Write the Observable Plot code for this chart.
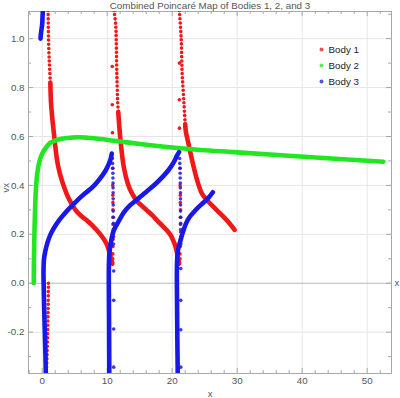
<!DOCTYPE html>
<html><head><meta charset="utf-8">
<script src="https://cdn.jsdelivr.net/npm/d3@7"></script>
<script src="https://cdn.jsdelivr.net/npm/@observablehq/plot@0.6"></script>
<style>
body{margin:0;background:#fff;}
#chart svg{display:block;}
</style></head><body><div id="chart"></div>
<script>
const title = "Combined Poincaré Map of Bodies 1, 2, and 3";
const seriesNames = ["Body 1", "Body 2", "Body 3"];
const seriesColors = ["#f01818", "#22e622", "#1818e8"];
const xTicks = [0, 10, 20, 30, 40, 50];
const yTicks = [-0.2, 0, 0.2, 0.4, 0.6, 0.8, 1.0];
const xMinorTicks = [-2, 2, 4, 6, 8, 12, 14, 16, 18, 22, 24, 26, 28, 32, 34, 36, 38, 42, 44, 46, 48, 52];
const yMinorTicks = [-0.3, -0.1, 0.1, 0.3, 0.5, 0.7, 0.9, 1.1];

// Body 1 (red)
const body1BelowZero = [[0.95,0],[0.92,-0.08],[0.87,-0.16],[0.8,-0.24],[0.72,-0.31],[0.64,-0.37]];
const body1Top1 = [[0.9,1.115],[0.97,1.0],[1.1,0.9],[1.25,0.82]];
const body1Curve1 = [[1.25,0.82],[1.35,0.74],[1.5,0.69],[1.85,0.6],[2.3,0.5],[2.7,0.45],[3.2,0.406],[4.1,0.345],[5.1,0.3],[6.0,0.275],[6.9,0.256],[7.7,0.237],[8.46,0.215],[9.1,0.195],[9.6,0.175],[10.0,0.155],[10.25,0.134],[10.5,0.11],[10.7,0.09],[10.8,0.08]];
const body1Top2 = [[11.05,1.115],[11.3,1.06],[11.38,1.0],[11.48,0.86],[11.6,0.75],[11.7,0.7]];
const body1Curve2 = [[11.7,0.7],[12.05,0.583],[12.56,0.474],[13.2,0.405],[13.85,0.365],[14.6,0.335],[15.4,0.315],[16.15,0.297],[17.0,0.276],[17.7,0.256],[18.5,0.235],[19.23,0.215],[19.8,0.195],[20.15,0.175],[20.45,0.155],[20.66,0.134],[20.85,0.11],[21.0,0.09],[21.07,0.08]];
const body1Top3 = [[21.1,1.115],[21.38,1.0],[21.53,0.86],[21.8,0.74],[22.0,0.65]];
const body1Curve3 = [[22.0,0.65],[22.1,0.62],[22.4,0.583],[23.07,0.502],[23.85,0.42],[24.6,0.365],[25.5,0.335],[26.4,0.311],[27.2,0.29],[27.95,0.27],[28.8,0.245],[29.6,0.218]];
const body1Scatter = [[10.78,0.886],[10.78,0.73],[10.8,0.615],[10.85,0.47],[10.85,0.40],[10.87,0.36],[10.87,0.33],[10.88,0.30],[10.88,0.27],[10.9,0.24],[10.9,0.21],[10.9,0.18],[10.88,0.15],[10.85,0.12],[10.85,0.10],
  [21.1,0.9],[21.1,0.75],[21.12,0.634],[21.2,0.47],[21.22,0.40],[21.25,0.36],[21.25,0.33],[21.27,0.30],[21.27,0.27],[21.28,0.24],[21.28,0.21],[21.28,0.18],[21.25,0.15],[21.2,0.12],[21.2,0.10]];

// Body 2 (green)
const body2Curve = [[-1.3,0],[-1.27,0.1],[-1.2,0.2],[-1.1,0.3],[-0.98,0.38],[-0.77,0.447],[-0.5,0.49],[0,0.53],[0.6,0.555],[1.28,0.575],[2.5,0.588],[3.85,0.594],[5.4,0.597],[7,0.595],[9,0.59],[14.1,0.572],[19.2,0.557],[24.35,0.545],[29.5,0.536],[39.7,0.518],[52.5,0.497]];

// Body 3 (blue)
const body3TopLeft = [[-0.26,1.0],[-0.2,1.02],[-0.1,1.04],[0.0,1.06],[0.05,1.09],[0.1,1.115]];
const body3Curve1 = [[0.55,-0.37],[0.5,-0.3],[0.4,-0.2],[0.3,-0.1],[0.22,0],[0.2,0.05],[0.28,0.1],[0.5,0.134],[0.8,0.165],[1.28,0.2],[1.9,0.23],[2.56,0.256],[3.3,0.28],[4.1,0.304],[4.9,0.325],[5.63,0.345],[6.7,0.37],[7.7,0.392],[8.5,0.415],[9.23,0.44],[9.8,0.463],[10.25,0.488],[10.55,0.51],[10.7,0.53]];
const body3Curve2 = [[10.32,-0.37],[10.3,-0.25],[10.27,-0.1],[10.25,0],[10.26,0.07],[10.33,0.12],[10.55,0.165],[11.0,0.215],[11.8,0.255],[12.56,0.29],[13.5,0.318],[14.6,0.342],[15.6,0.365],[16.66,0.388],[17.7,0.413],[18.7,0.44],[19.5,0.465],[20.25,0.495],[20.7,0.52],[21.05,0.536]];
const body3Curve3 = [[20.85,-0.37],[20.8,-0.25],[20.75,-0.1],[20.72,0],[20.73,0.07],[20.82,0.12],[21.0,0.15],[21.28,0.175],[21.6,0.205],[22.05,0.24],[22.6,0.268],[23.3,0.29],[24.0,0.31],[24.86,0.331],[25.6,0.35],[26.25,0.372]];
const body3Scatter = [[10.8,0.51],[10.82,0.49],[10.85,0.47],[10.87,0.45],[10.88,0.43],[10.9,0.41],[10.9,0.39],[10.92,0.37],[10.92,0.345],[10.93,0.32],[10.93,0.295],[10.95,0.27],[10.95,0.245],[10.95,0.22],[10.97,0.19],[10.97,0.16],[11.0,0.05],[11.0,-0.07],[11.0,-0.187],[11.0,-0.343],
  [21.15,0.51],[21.17,0.49],[21.2,0.47],[21.22,0.45],[21.23,0.43],[21.25,0.41],[21.25,0.39],[21.27,0.37],[21.27,0.345],[21.28,0.32],[21.28,0.295],[21.3,0.27],[21.3,0.245],[21.3,0.22],[21.32,0.19],[21.32,0.16],[21.32,0.06],[21.32,-0.07],[21.32,-0.19],[21.32,-0.343]];

const W = 400, H = 398, mL = 28, mR = 9, mT = 11, mB = 25;
const pW = W - mL - mR, pH = H - mT - mB;
const font = "Liberation Sans, Arial, sans-serif";
const gx = d => d[0], gy = d => d[1];
const [red, green, blue] = seriesColors;

function dense(arr, color) {
  return Plot.line(arr, {x: gx, y: gy, stroke: color, strokeWidth: 4.6, strokeLinecap: "round", strokeLinejoin: "round", curve: "catmull-rom", clip: true});
}
function dotted(arr, color) {
  return Plot.line(arr, {x: gx, y: gy, stroke: color, strokeWidth: 3.6, strokeLinecap: "round", strokeDasharray: "0,4.2", curve: "catmull-rom", clip: true});
}

const legendMarks = seriesNames.flatMap((name, i) => [
  Plot.dot([name], {frameAnchor: "top-right", dx: -70, dy: 38 + 16 * i, r: 2, fill: seriesColors[i], fillOpacity: 0.75, stroke: "none"}),
  Plot.text([name], {frameAnchor: "top-right", dx: -63, dy: 38 + 16 * i, text: d => d, textAnchor: "start", lineAnchor: "middle", fontSize: 9.8, fill: "#222", fontFamily: font})
]);

const chart = Plot.plot({
  width: W, height: H,
  marginLeft: mL, marginRight: mR, marginTop: mT, marginBottom: mB,
  style: {fontFamily: font, background: "#fff"},
  x: {domain: [-2.11, 53.74], label: null},
  y: {domain: [-0.369, 1.111], label: null},
  marks: [
    Plot.gridX(xTicks, {stroke: "#e6e6e6", strokeOpacity: 1, strokeWidth: 1}),
    Plot.gridY(yTicks.filter(d => d !== 0), {stroke: "#e6e6e6", strokeOpacity: 1, strokeWidth: 1}),
    Plot.ruleY([0], {stroke: "#b9b9b9", strokeWidth: 1.2}),
    Plot.frame({stroke: "#a8a8a8", strokeWidth: 1}),
    // frame ticks (inward)
    Plot.tickX(xTicks, {x: d => d, insetTop: pH - 5, stroke: "#a8a8a8"}),
    Plot.tickX(xTicks, {x: d => d, insetBottom: pH - 5, stroke: "#a8a8a8"}),
    Plot.tickX(xMinorTicks, {x: d => d, insetTop: pH - 3, stroke: "#a8a8a8"}),
    Plot.tickX(xMinorTicks, {x: d => d, insetBottom: pH - 3, stroke: "#a8a8a8"}),
    Plot.tickY(yTicks, {y: d => d, insetRight: pW - 5, stroke: "#a8a8a8"}),
    Plot.tickY(yTicks, {y: d => d, insetLeft: pW - 5, stroke: "#a8a8a8"}),
    Plot.tickY(yMinorTicks, {y: d => d, insetRight: pW - 3, stroke: "#a8a8a8"}),
    Plot.tickY(yMinorTicks, {y: d => d, insetLeft: pW - 3, stroke: "#a8a8a8"}),
    Plot.axisX(xTicks, {tickSize: 0, tickPadding: 4, fontSize: 9.8, fill: "#555", label: null}),
    Plot.axisY(yTicks, {tickSize: 0, tickPadding: 4, fontSize: 9.8, fill: "#555", label: null, tickFormat: d => d.toFixed(1)}),
    // Body 1
    dotted(body1BelowZero, red),
    dotted(body1Top1, red), dense(body1Curve1, red),
    dotted(body1Top2, red), dense(body1Curve2, red),
    dotted(body1Top3, red), dense(body1Curve3, red),
    Plot.dot(body1Scatter, {x: gx, y: gy, r: 1.8, fill: red, stroke: "none"}),
    // Body 2
    dense(body2Curve, green),
    // Body 3
    dense(body3TopLeft, blue), dense(body3Curve1, blue), dense(body3Curve2, blue), dense(body3Curve3, blue),
    Plot.dot(body3Scatter, {x: gx, y: gy, r: 1.8, fill: blue, fillOpacity: 0.85, stroke: "none"}),
    // texts
    Plot.text([title], {frameAnchor: "top", dy: -6, text: d => d, fontSize: 9.8, fill: "#555", lineAnchor: "middle"}),
    Plot.text(["vx"], {frameAnchor: "left", dx: -23, rotate: -90, text: d => d, fontSize: 9.5, fill: "#555", lineAnchor: "middle"}),
    Plot.text(["x"], {frameAnchor: "bottom", dy: 20, text: d => d, fontSize: 9.5, fill: "#555", lineAnchor: "middle"}),
    Plot.text([0], {y: d => d, frameAnchor: "right", dx: 3, text: () => "x", textAnchor: "start", fontSize: 9.5, fill: "#555", lineAnchor: "middle"}),
    ...legendMarks
  ]
});
document.getElementById("chart").appendChild(chart);
</script></body></html>
